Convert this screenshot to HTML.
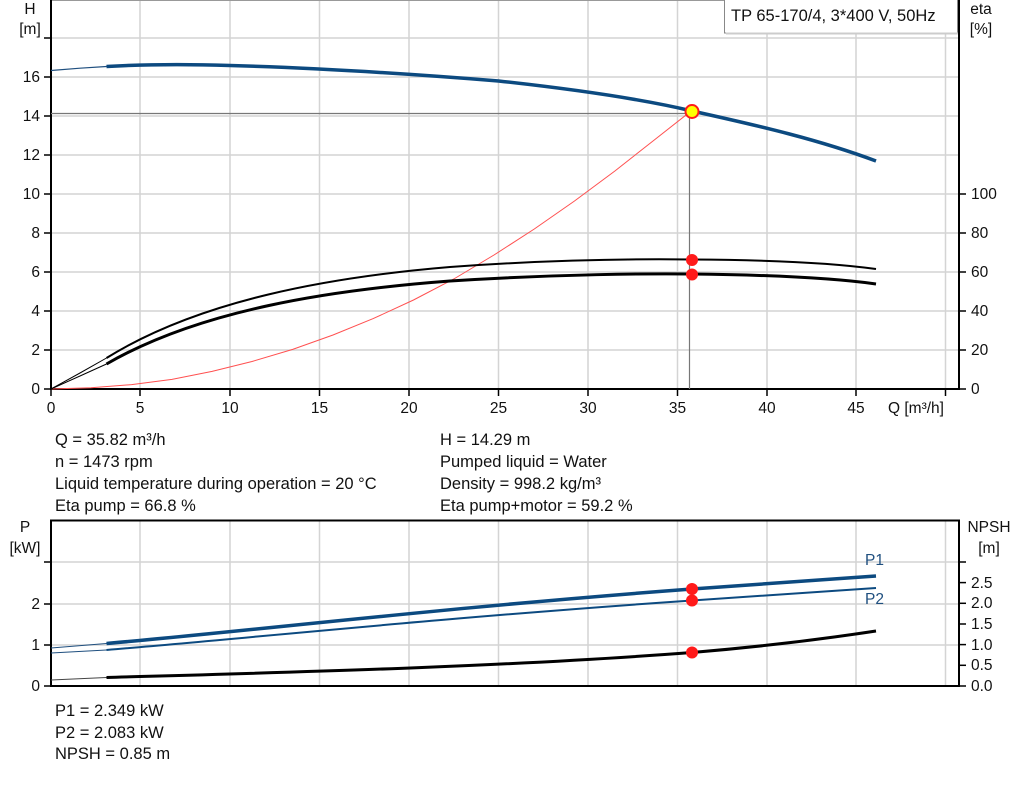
<!DOCTYPE html>
<html><head><meta charset="utf-8"><style>
body{margin:0;background:#fff;}
svg text{font-family:"Liberation Sans",sans-serif;fill:#111;}
</style></head><body>
<svg width="1024" height="781" viewBox="0 0 1024 781" xmlns="http://www.w3.org/2000/svg">
<rect width="1024" height="781" fill="#fff"/>
<g stroke="#d4d4d4" stroke-width="1.5">
<line x1="140" y1="0" x2="140" y2="389"/><line x1="230" y1="0" x2="230" y2="389"/><line x1="319.5" y1="0" x2="319.5" y2="389"/><line x1="409" y1="0" x2="409" y2="389"/><line x1="498.5" y1="0" x2="498.5" y2="389"/><line x1="588" y1="0" x2="588" y2="389"/><line x1="677.5" y1="0" x2="677.5" y2="389"/><line x1="767" y1="0" x2="767" y2="389"/><line x1="856" y1="0" x2="856" y2="389"/><line x1="945.5" y1="0" x2="945.5" y2="389"/>
<line x1="51" y1="350" x2="959" y2="350"/><line x1="51" y1="311" x2="959" y2="311"/><line x1="51" y1="272" x2="959" y2="272"/><line x1="51" y1="233" x2="959" y2="233"/><line x1="51" y1="194" x2="959" y2="194"/><line x1="51" y1="155" x2="959" y2="155"/><line x1="51" y1="116" x2="959" y2="116"/><line x1="51" y1="77" x2="959" y2="77"/><line x1="51" y1="38" x2="959" y2="38"/>
</g>
<line x1="51" y1="0.5" x2="959" y2="0.5" stroke="#999"/>
<g stroke="#000" stroke-width="2">
<line x1="51" y1="0" x2="51" y2="390"/><line x1="50" y1="389" x2="960" y2="389"/><line x1="959" y1="0" x2="959" y2="390"/>
</g>
<g stroke="#000" stroke-width="1.5">
<line x1="44" y1="389" x2="51" y2="389"/><line x1="44" y1="350" x2="51" y2="350"/><line x1="44" y1="311" x2="51" y2="311"/><line x1="44" y1="272" x2="51" y2="272"/><line x1="44" y1="233" x2="51" y2="233"/><line x1="44" y1="194" x2="51" y2="194"/><line x1="44" y1="155" x2="51" y2="155"/><line x1="44" y1="116" x2="51" y2="116"/><line x1="44" y1="77" x2="51" y2="77"/><line x1="44" y1="38" x2="51" y2="38"/>
<line x1="959" y1="389" x2="966" y2="389"/><line x1="959" y1="350" x2="966" y2="350"/><line x1="959" y1="311" x2="966" y2="311"/><line x1="959" y1="272" x2="966" y2="272"/><line x1="959" y1="233" x2="966" y2="233"/><line x1="959" y1="194" x2="966" y2="194"/>
<line x1="51" y1="389" x2="51" y2="396"/><line x1="140" y1="389" x2="140" y2="396"/><line x1="230" y1="389" x2="230" y2="396"/><line x1="319.5" y1="389" x2="319.5" y2="396"/><line x1="409" y1="389" x2="409" y2="396"/><line x1="498.5" y1="389" x2="498.5" y2="396"/><line x1="588" y1="389" x2="588" y2="396"/><line x1="677.5" y1="389" x2="677.5" y2="396"/><line x1="767" y1="389" x2="767" y2="396"/><line x1="856" y1="389" x2="856" y2="396"/><line x1="945.5" y1="389" x2="945.5" y2="396"/>
</g>
<g font-size="15.5" text-anchor="end">
<text x="40" y="394">0</text><text x="40" y="355">2</text><text x="40" y="316">4</text><text x="40" y="277">6</text><text x="40" y="238">8</text><text x="40" y="199">10</text><text x="40" y="160">12</text><text x="40" y="121">14</text><text x="40" y="82">16</text>
</g>
<text x="30" y="14" font-size="15.5" text-anchor="middle">H</text>
<text x="30" y="34" font-size="15.5" text-anchor="middle">[m]</text>
<text x="981" y="14" font-size="15.5" text-anchor="middle">eta</text>
<text x="981" y="34" font-size="15.5" text-anchor="middle">[%]</text>
<g font-size="15.5">
<text x="971" y="394">0</text><text x="971" y="355">20</text><text x="971" y="316">40</text><text x="971" y="277">60</text><text x="971" y="238">80</text><text x="971" y="199">100</text>
</g>
<g font-size="15.5" text-anchor="middle">
<text x="51" y="413">0</text><text x="140" y="413">5</text><text x="230" y="413">10</text><text x="319.5" y="413">15</text><text x="409" y="413">20</text><text x="498.5" y="413">25</text><text x="588" y="413">30</text><text x="677.5" y="413">35</text><text x="767" y="413">40</text><text x="856" y="413">45</text>
</g>
<text x="888" y="413" font-size="15.5">Q [m³/h]</text>
<rect x="724.5" y="-1" width="233" height="34" fill="#fff" stroke="#888"/>
<line x1="726" y1="33.5" x2="958" y2="33.5" stroke="#ccc" stroke-width="2"/>
<text x="731" y="21" font-size="16.5">TP 65-170/4, 3*400 V, 50Hz</text>
<line x1="51" y1="113.5" x2="690" y2="113.5" stroke="#777" stroke-width="1.2"/>
<line x1="689.5" y1="112" x2="689.5" y2="389" stroke="#777" stroke-width="1.2"/>
<polyline fill="none" stroke="#ff5050" stroke-width="1" points="51,389 91,387.8 131.6,384.6 172,379.4 212.1,371.4 252,361.5 292.7,349.4 333,335 373.2,318.6 413.5,300 453.8,279 494,255 534.3,229 574.5,201 614.9,171 653,141 692,110.3"/>
<polyline fill="none" stroke="#1f4f7f" stroke-width="1.2" points="51,70.5 80,68.2 106.5,66.5"/>
<path fill="none" stroke="#0c4a80" stroke-width="3.5" d="M106.5,66.5 C150,64 200,64.5 230,65.5 C300,67.5 400,73 498.5,81 C590,91 650,101 692,111 C760,126 820,140 876,161"/>
<polyline fill="none" stroke="#000" stroke-width="1" points="51,389 80,373 106.5,358"/>
<polyline fill="none" stroke="#000" stroke-width="1" points="51,389 80,376 106.5,364"/>
<path fill="none" stroke="#000" stroke-width="2" d="M106.5,358 C200,300 330,277 450,267 C560,259 650,259 692,259.5 C780,260 840,264 876,269"/>
<path fill="none" stroke="#000" stroke-width="3" d="M106.5,364 C200,310 330,290 450,281 C560,274 650,273.5 692,274 C780,275 840,279 876,284"/>
<circle cx="692" cy="260" r="6" fill="#ff1a1a"/>
<circle cx="692" cy="274.5" r="6" fill="#ff1a1a"/>
<circle cx="692" cy="111.5" r="6.5" fill="#ffff00" stroke="#ff1a1a" stroke-width="2"/>
<g font-size="16.5">
<text x="55" y="445">Q = 35.82 m³/h</text>
<text x="55" y="467">n = 1473 rpm</text>
<text x="55" y="489">Liquid temperature during operation = 20 °C</text>
<text x="55" y="511">Eta pump = 66.8 %</text>
<text x="440" y="445">H = 14.29 m</text>
<text x="440" y="467">Pumped liquid = Water</text>
<text x="440" y="489">Density = 998.2 kg/m³</text>
<text x="440" y="511">Eta pump+motor = 59.2 %</text>
</g>
<g stroke="#d4d4d4" stroke-width="1.5">
<line x1="140" y1="520" x2="140" y2="686"/><line x1="230" y1="520" x2="230" y2="686"/><line x1="319.5" y1="520" x2="319.5" y2="686"/><line x1="409" y1="520" x2="409" y2="686"/><line x1="498.5" y1="520" x2="498.5" y2="686"/><line x1="588" y1="520" x2="588" y2="686"/><line x1="677.5" y1="520" x2="677.5" y2="686"/><line x1="767" y1="520" x2="767" y2="686"/><line x1="856" y1="520" x2="856" y2="686"/><line x1="945.5" y1="520" x2="945.5" y2="686"/>
<line x1="51" y1="645" x2="959" y2="645"/><line x1="51" y1="604" x2="959" y2="604"/><line x1="51" y1="562" x2="959" y2="562"/>
</g>
<g stroke="#000" stroke-width="2">
<line x1="50" y1="520.5" x2="960" y2="520.5"/><line x1="51" y1="520" x2="51" y2="687"/><line x1="50" y1="686" x2="960" y2="686"/><line x1="959" y1="520" x2="959" y2="687"/>
</g>
<g stroke="#000" stroke-width="1.5">
<line x1="44" y1="686" x2="51" y2="686"/><line x1="44" y1="645" x2="51" y2="645"/><line x1="44" y1="604" x2="51" y2="604"/><line x1="44" y1="562" x2="51" y2="562"/>
<line x1="959" y1="686" x2="966" y2="686"/><line x1="959" y1="665.3" x2="966" y2="665.3"/><line x1="959" y1="644.6" x2="966" y2="644.6"/><line x1="959" y1="624" x2="966" y2="624"/><line x1="959" y1="603.3" x2="966" y2="603.3"/><line x1="959" y1="582.6" x2="966" y2="582.6"/><line x1="959" y1="562" x2="966" y2="562"/>
</g>
<g font-size="15.5" text-anchor="end">
<text x="40" y="691">0</text><text x="40" y="650">1</text><text x="40" y="609">2</text>
</g>
<text x="25" y="532" font-size="15.5" text-anchor="middle">P</text>
<text x="25" y="553" font-size="15.5" text-anchor="middle">[kW]</text>
<text x="989" y="532" font-size="15.5" text-anchor="middle">NPSH</text>
<text x="989" y="553" font-size="15.5" text-anchor="middle">[m]</text>
<g font-size="15.5">
<text x="971" y="691">0.0</text><text x="971" y="670">0.5</text><text x="971" y="650">1.0</text><text x="971" y="629">1.5</text><text x="971" y="608">2.0</text><text x="971" y="588">2.5</text>
</g>
<polyline fill="none" stroke="#1f4f7f" stroke-width="1" points="51,648 106.5,643.5"/>
<polyline fill="none" stroke="#1f4f7f" stroke-width="1" points="51,653 106.5,650"/>
<polyline fill="none" stroke="#444" stroke-width="1" points="51,680 106.5,677.5"/>
<path fill="none" stroke="#0c4a80" stroke-width="3.5" d="M106.5,643.5 C250,631 450,607 692,589 C780,583 840,579 876,576"/>
<path fill="none" stroke="#0c4a80" stroke-width="2" d="M106.5,650 C250,638 450,617 692,600.5 C780,595 840,591 876,588"/>
<path fill="none" stroke="#000" stroke-width="3" d="M106.5,677.5 C300,672 500,667 692,652.5 C770,646 830,638 876,631"/>
<text x="865" y="565" font-size="15.5" style="fill:#1f4f7f">P1</text>
<text x="865" y="604" font-size="15.5" style="fill:#1f4f7f">P2</text>
<circle cx="692" cy="589" r="6" fill="#ff1a1a"/>
<circle cx="692" cy="600.5" r="6" fill="#ff1a1a"/>
<circle cx="692" cy="652.5" r="6" fill="#ff1a1a"/>
<g font-size="16.5">
<text x="55" y="716">P1 = 2.349 kW</text>
<text x="55" y="738">P2 = 2.083 kW</text>
<text x="55" y="759">NPSH = 0.85 m</text>
</g>
</svg>
</body></html>
